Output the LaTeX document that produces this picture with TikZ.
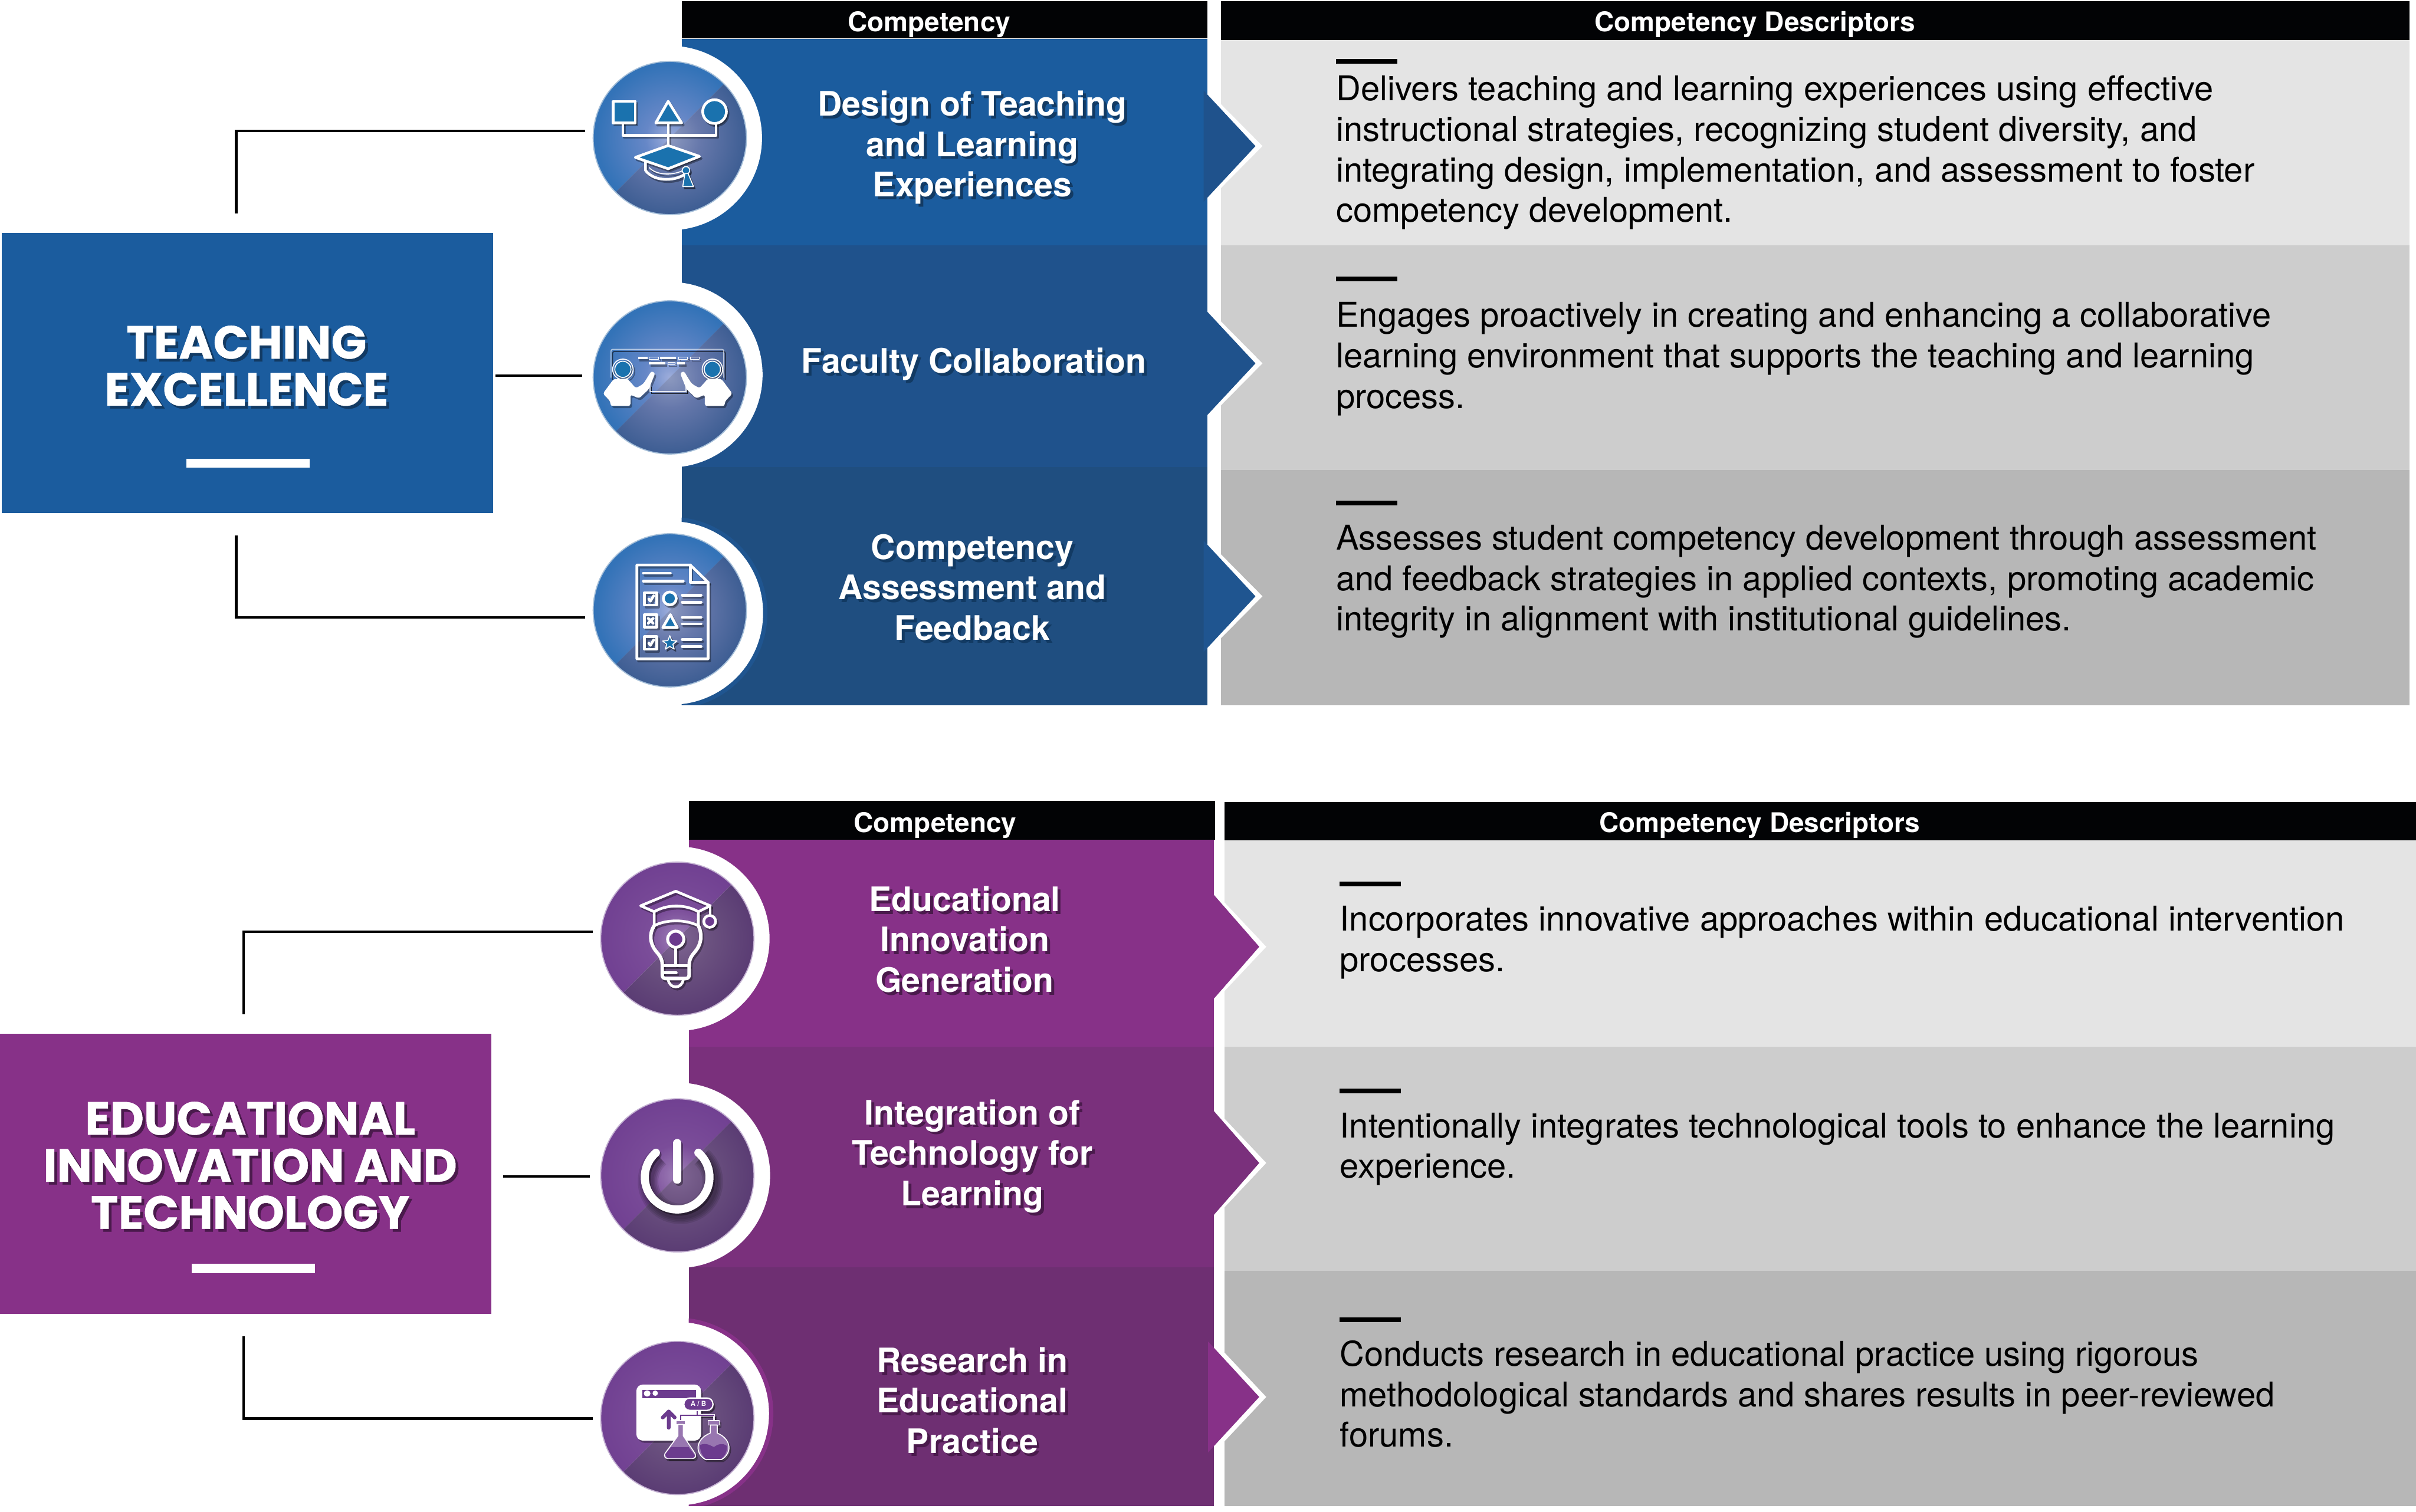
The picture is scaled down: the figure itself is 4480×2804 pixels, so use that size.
\documentclass[tikz,border=0pt]{standalone}
\usepackage{fontspec}
\usepackage{tikz}
\setmainfont{TeX Gyre Heros}
\newfontfamily\titlefont[BoldFeatures={FakeBold=0.6}]{Poppins}

\definecolor{blueA}{HTML}{1B5C9E}
\definecolor{blueB}{HTML}{1F528C}
\definecolor{blueC}{HTML}{1F4E80}
\definecolor{blueD}{HTML}{1F5590}
\definecolor{purpleA}{HTML}{873188}
\definecolor{purpleB}{HTML}{7A307C}
\definecolor{purpleC}{HTML}{6E2F72}
\definecolor{grayA}{HTML}{E4E4E4}
\definecolor{grayB}{HTML}{CDCDCD}
\definecolor{grayC}{HTML}{B7B7B7}
\definecolor{headblack}{HTML}{020305}
\definecolor{capblue}{HTML}{1A72AE}
\definecolor{iconpurple}{HTML}{6C3B8E}
\definecolor{labelshade}{HTML}{123A63}

\pgfdeclareradialshading{blueup}{\pgfpoint{0bp}{0bp}}{rgb(0bp)=(.62,.68,.86);rgb(8bp)=(.4,.53,.78);rgb(24bp)=(.2,.45,.72);rgb(50bp)=(.17,.43,.71)}
\pgfdeclareradialshading{bluedown}{\pgfpoint{0bp}{0bp}}{rgb(0bp)=(.55,.6,.75);rgb(10bp)=(.4,.47,.67);rgb(26bp)=(.23,.36,.57);rgb(50bp)=(.2,.33,.54)}
\pgfdeclareradialshading{purpleup}{\pgfpoint{0bp}{0bp}}{rgb(0bp)=(.62,.5,.72);rgb(10bp)=(.48,.3,.6);rgb(26bp)=(.44,.25,.57);rgb(50bp)=(.42,.23,.56)}
\pgfdeclareradialshading{purpledown}{\pgfpoint{0bp}{0bp}}{rgb(0bp)=(.5,.4,.58);rgb(10bp)=(.42,.32,.5);rgb(26bp)=(.35,.23,.45);rgb(50bp)=(.32,.21,.43)}

\tikzset{
  catbox/.style={rectangle, inner sep=0, minimum width=9.11cm, minimum height=5.19cm},
  cattext/.style={white, align=center, font=\titlefont\bfseries\fontsize{24.5}{24.8}\selectfont},
  headtext/.style={white, anchor=base, font=\bfseries\fontsize{14.3}{16}\selectfont},
  comptext/.style={white, align=center, font=\bfseries\fontsize{17.8}{21.34}\selectfont},
  desctext/.style={black, align=left, anchor=base west, inner sep=0, font=\fontsize{18}{21.34}\selectfont},
  iconring/.style={circle, draw=white!60!#1, line width=.02cm, minimum size=2.84cm, inner sep=0},
  link/.style={black, line width=.045cm},
  iconline/.style={line width=.05cm, line join=round, line cap=round},
  thinline/.style={line width=.018cm, line join=round, line cap=round}
}

% shaded disc, cut along the diagonal
\newcommand{\iconback}[4]{
  \begin{scope}
    \clip (#1-300,#2-300) -- (#1+300,#2-300) -- (#1-300,#2+300) -- cycle;
    \shade[shading=#3] (#1,#2) circle (142);
  \end{scope}
  \begin{scope}
    \clip (#1+300,#2-300) -- (#1+300,#2+300) -- (#1-300,#2+300) -- cycle;
    \shade[shading=#4] (#1,#2) circle (142);
  \end{scope}
}

% art at a centre: soft copy first, then the art
\newcommand{\placeart}[4]{
  \begin{scope}[shift={(#1,#2)}]
    \begin{scope}[shift={(3,4)},opacity=.35]
      #3{black}{black}
    \end{scope}
    #3{white}{#4}
  \end{scope}
}

\newcommand{\hatart}[2]{
  \draw[iconline,draw=#1] (-87,-28) -- (-87,-5) -- (86,-5) -- (86,-27);
  \draw[iconline,draw=#1] (-3,-28) -- (-3,14);
  \draw[iconline,draw=#1,fill=#2] (-105,-68) rectangle (-64,-28);
  \draw[iconline,draw=#1,fill=#2] (-3,-68) -- (22,-28) -- (-26,-28) -- cycle;
  \draw[iconline,draw=#1,fill=#2] (83,-49) circle (22);
  \draw[iconline,draw=#1] (-45,40) -- (-45,60) .. controls (-30,82) and (15,82) .. (34,62);
  \draw[thinline,draw=#1] (-38,55) .. controls (-25,70) and (10,70) .. (28,58);
  \draw[iconline,draw=#1,fill=#2] (-3,14) -- (55,34) -- (-3,57) -- (-64,36) -- cycle;
  \draw[thinline,draw=#1,fill=#2] (30,60) circle (7);
  \draw[thinline,draw=#1,fill=#2] (28,66) -- (24,90) -- (44,90) -- (34,66) -- cycle;
}

\newcommand{\colleague}[2]{
  \draw[thinline,draw=#1] (-87,-15) circle (19);
  \draw[thinline,draw=#1,fill=#2] (-87,-15) circle (15);
  \fill[#1,rounded corners=.04cm] (-124,30) -- (-104,3) -- (-79,2) -- (-63,20) -- (-49,12) -- (-34,-12) -- (-27,-8) -- (-39,22) -- (-57,39) -- (-73,32) -- (-73,53) -- (-110,53) -- (-110,45) -- cycle;
}

\newcommand{\screenart}[2]{
  \draw[thinline,draw=#1,opacity=.6,rounded corners=.03cm] (-109,0) -- (-109,-52) -- (100,-52) -- (100,0);
  \draw[thinline,draw=#1,opacity=.8] (-37,14) -- (-37,26) -- (30,26) -- (30,14);
  \fill[#1] (-59,-38) rectangle (-41,-34);
  \draw[thinline,draw=#1,line width=.008cm] (-38,-38) rectangle (-21,-34);
  \fill[#1] (-18,-38) rectangle (11,-34);
  \draw[thinline,draw=#1,line width=.008cm] (16,-38) rectangle (33,-34);
  \draw[thinline,draw=#1,line width=.008cm] (38,-38) rectangle (55,-34);
  \fill[#1] (-39,-28) rectangle (-8,-24);
  \draw[thinline,draw=#1,line width=.008cm] (-4,-28) rectangle (10,-24);
  \fill[#1] (14,-28) rectangle (28,-24);
  \colleague{#1}{#2}
  \begin{scope}[shift={(-8,0)},xscale=-1]
    \colleague{#1}{#2}
  \end{scope}
}

\newcommand{\tick}[3]{
  \draw[iconline,draw=#3] (#1-4,#2+1) -- (#1-1,#2+5) -- (#1+5,#2-5);
}

\newcommand{\sheetart}[2]{
  \draw[iconline,draw=#1] (-61,-84) -- (38,-84) -- (71,-52) -- (71,90) -- (-61,90) -- cycle;
  \draw[iconline,draw=#1] (38,-84) -- (38,-52) -- (71,-52);
  \draw[iconline,draw=#1] (-49,-69) -- (1,-69);
  \draw[iconline,draw=#1] (-49,-54) -- (25,-54);
  \draw[iconline,draw=#1] (-47,-33) rectangle (-24,-10);
  \draw[iconline,draw=#1] (-47,8) rectangle (-24,31);
  \draw[iconline,draw=#1] (-47,49) rectangle (-24,72);
  \tick{-35}{-22}{#1}
  \draw[iconline,draw=#1] (-40,15) -- (-31,24) (-31,15) -- (-40,24);
  \tick{-35}{60}{#1}
  \draw[iconline,draw=#1,fill=#2] (0,-22) circle (12);
  \draw[iconline,draw=#1,fill=#2] (1,8) -- (14,32) -- (-13,32) -- cycle;
  \draw[thinline,draw=#1,fill=#2] (0,47) -- (3.5,56) -- (13.3,57) -- (5.7,63) -- (8.2,72) -- (0,67) -- (-8.2,72) -- (-5.7,63) -- (-13.3,57) -- (-3.5,56) -- cycle;
  \draw[iconline,draw=#1] (23,-28) -- (58,-28) (23,-15) -- (58,-15);
  \draw[iconline,draw=#1] (23,13) -- (58,13) (23,25) -- (58,25);
  \draw[iconline,draw=#1] (23,54) -- (58,54) (23,67) -- (58,67);
}

\newcommand{\bulbart}[2]{
  \draw[iconline,draw=#1] (-68,-61) -- (-3,-88) -- (61,-61) -- (39,-50) .. controls (15,-64) and (-19,-64) .. (-43,-50) -- cycle;
  \draw[iconline,draw=#1] (-43,-50) -- (-43,-24) .. controls (-20,-36) and (15,-36) .. (39,-24) -- (39,-50);
  \draw[iconline,draw=#1] (61,-61) -- (61,-44);
  \draw[iconline,draw=#1,fill=#2] (60,-32) circle (11);
  \draw[iconline,draw=#1,line width=.065cm] (-43,-24) .. controls (-52,-10) and (-52,8) .. (-39,24) .. controls (-32,32) and (-28,38) .. (-28,48) -- (-28,66) .. controls (-28,72) and (-26,74) .. (-20,74) -- (14,74) .. controls (20,74) and (22,72) .. (22,66) -- (22,48) .. controls (22,38) and (26,32) .. (33,24) .. controls (46,8) and (46,-10) .. (39,-24);
  \draw[iconline,draw=#1] (-3,18) -- (-3,48);
  \draw[iconline,draw=#1] (-28,50) -- (22,50);
  \draw[iconline,draw=#1] (-26,63) -- (-2,63);
  \draw[iconline,draw=#1,line width=.05cm] (-17,76) .. controls (-14,94) and (8,94) .. (11,76);
  \draw[iconline,draw=#1,line width=.055cm,fill=#2] (-3,1) circle (15);
}

\newcommand{\powerart}[2]{
  \draw[draw=#1,line width=.15cm,line cap=round] (39,-42) arc (-49:229:60);
  \draw[draw=#1,line width=.15cm,line cap=round] (0,-60) -- (0,8);
}

\newcommand{\flaskart}[2]{
  \fill[#1,rounded corners=.12cm] (-76,-62) rectangle (44,42);
  \fill[#2] (-65,-52) rectangle (35,-37);
  \fill[#1,rounded corners=.05cm] (-62,-51) rectangle (-50,-40);
  \fill[#1] (-41,-46) circle (5);
  \draw[iconline,draw=#2,line width=.07cm] (-16,18) -- (-16,-12) (-27,-1) -- (-16,-12) -- (-5,-1);
  \draw[draw=#1,line width=.04cm] (37,-14) -- (37,-5) (6,5) -- (6,-5) -- (68,-5) -- (68,5);
  \draw[draw=#2,line width=.018cm] (37,-14) -- (37,-5) (6,5) -- (6,-5) -- (68,-5) -- (68,5);
  \draw[thinline,draw=#1,fill=#2!70!white] (-2,5) rectangle (15,12);
  \draw[thinline,draw=#1,fill=#2!70!white] (1,12) -- (1,33) -- (-23,66) .. controls (-25,72) and (-22,75) .. (-18,75) -- (28,75) .. controls (33,75) and (35,72) .. (33,66) -- (11,33) -- (11,12) -- cycle;
  \fill[#2] (-12,54) -- (21,54) -- (33,70) -- (28,75) -- (-18,75) -- (-23,68) -- cycle;
  \draw[thinline,draw=#1,fill=#2!70!white] (57,5) rectangle (78,13);
  \draw[thinline,draw=#1,fill=#2!70!white] (61,13) -- (61,28) .. controls (32,40) and (33,66) .. (52,77) -- (82,77) .. controls (101,66) and (102,40) .. (74,28) -- (74,13) -- cycle;
  \fill[#2] (42,50) .. controls (55,45) and (62,52) .. (68,54) .. controls (75,48) and (85,46) .. (92,52) .. controls (92,64) and (88,70) .. (81,76) -- (53,76) .. controls (46,70) and (42,62) .. (42,50) -- cycle;
  \draw[thinline,draw=#1,line width=.025cm,fill=#2,rounded corners=.11cm] (12,-37) rectangle (66,-14);
}

\newcommand{\shtext}[1]{\leavevmode\rlap{\kern1.5pt\raisebox{-1.5pt}{\textcolor{labelshade}{#1}}}#1}

\begin{document}
\begin{tikzpicture}[x=0.01cm,y=-0.01cm]

 \useasboundingbox (0,0) rectangle (4480,2804);

 %%%  teaching block

 % panels
 \fill[grayA] (2264,74) rectangle (4468,455);
 \fill[grayB] (2264,455) rectangle (4468,872);
 \fill[grayC] (2264,872) rectangle (4468,1308);

 % rows
 \fill[blueA] (1264,72) rectangle (2239,455);
 \fill[blueB] (1264,455) rectangle (2239,866);
 \fill[blueC] (1264,866) rectangle (2239,1308);

 % chevrons
 \fill[white] (2239,168) -- (2341,271) -- (2239,374) -- cycle;
 \fill[blueB] (2232,168) -- (2328,271) -- (2232,374) -- cycle;
 \fill[white] (2239,571) -- (2341,674) -- (2239,777) -- cycle;
 \fill[blueB] (2232,571) -- (2328,674) -- (2232,777) -- cycle;
 \fill[white] (2239,1003) -- (2341,1106) -- (2239,1209) -- cycle;
 \fill[blueD] (2232,1003) -- (2328,1106) -- (2232,1209) -- cycle;

 % white rings
 \begin{scope}
  \clip (1264,866) rectangle (2239,1308);
  \fill[blueD] (1245,1137) circle (178);
 \end{scope}
 \fill[white] (1242,256) circle (171);
 \fill[white] (1242,695) circle (172);
 \fill[white] (1245,1137) circle (170);

 % icons
 \iconback{1242}{256}{blueup}{bluedown}
 \iconback{1242}{700}{blueup}{bluedown}
 \iconback{1242}{1132}{blueup}{bluedown}
 \node [iconring=blueA] (design) at (1242,256) {};
 \node [iconring=blueA] (faculty) at (1242,700) {};
 \node [iconring=blueA] (assess) at (1242,1132) {};
 \placeart{1242}{256}{\hatart}{capblue}
 \placeart{1242}{700}{\screenart}{capblue}
 \placeart{1242}{1132}{\sheetart}{capblue}

 % headers
 \fill[headblack] (1264,2) rectangle (2239,71);
 \fill[headblack] (2264,2) rectangle (4468,74);
 \node [headtext] (comphead) at (1723,59) {Competency};
 \node [headtext] (deschead) at (3254,59) {Competency Descriptors};

 % row labels
 \node [comptext] (designtext) at (1803,276) {\shtext{Design of Teaching}\\ \shtext{and Learning}\\ \shtext{Experiences}};
 \node [comptext] (facultytext) at (1806,678) {\shtext{Faculty Collaboration}};
 \node [comptext] (assesstext) at (1803,1092) {\shtext{Competency}\\ \shtext{Assessment and}\\ \shtext{Feedback}};

 % descriptors
 \fill[black] (2477,109) rectangle (2591,118);
 \fill[black] (2477,513) rectangle (2591,522);
 \fill[black] (2477,929) rectangle (2591,937);
 \node [desctext] (designdesc) at (2477,412) {Delivers teaching and learning experiences using effective\\instructional strategies, recognizing student diversity, and\\integrating design, implementation, and assessment to foster\\competency development.};
 \node [desctext] (facultydesc) at (2477,757) {Engages proactively in creating and enhancing a collaborative\\learning environment that supports the teaching and learning\\process.};
 \node [desctext] (assessdesc) at (2477,1170) {Assesses student competency development through assessment\\and feedback strategies in applied contexts, promoting academic\\integrity in alignment with institutional guidelines.};

 % category box
 \node [catbox, fill=blueA] (teachbox) at (458.5,692) {};
 \node [cattext] (teachtitle) at (457,681) {\shtext{TEACHING}\\ \shtext{EXCELLENCE}};
 \fill[white] (346,851) rectangle (574,867);

 % links
 \coordinate (teachup) at (438,396);
 \coordinate (designin) at (1085,243);
 \coordinate (teachright) at (919,697);
 \coordinate (facultyin) at (1080,697);
 \coordinate (teachdown) at (438,993);
 \coordinate (assessin) at (1085,1145);
 \draw [link] (teachup) |- (designin);
 \draw [link] (teachright) -- (facultyin);
 \draw [link] (teachdown) |- (assessin);

 %%%  innovation block

 % panels
 \fill[grayA] (2271,1559) rectangle (4480,1941);
 \fill[grayB] (2271,1941) rectangle (4480,2357);
 \fill[grayC] (2271,2357) rectangle (4480,2793);

 % rows
 \fill[purpleA] (1277,1557) rectangle (2251,1941);
 \fill[purpleB] (1277,1941) rectangle (2251,2350);
 \fill[purpleC] (1277,2350) rectangle (2251,2793);

 % chevrons
 \fill[white] (2251,1653) -- (2348,1756) -- (2251,1859) -- cycle;
 \fill[purpleA] (2245,1653) -- (2335,1756) -- (2245,1859) -- cycle;
 \fill[white] (2251,2054) -- (2348,2157) -- (2251,2260) -- cycle;
 \fill[purpleB] (2245,2054) -- (2335,2157) -- (2245,2260) -- cycle;
 \fill[white] (2251,2488) -- (2348,2591) -- (2251,2694) -- cycle;
 \fill[purpleA] (2240,2488) -- (2335,2591) -- (2240,2694) -- cycle;

 % white rings
 \begin{scope}
  \clip (1277,2350) rectangle (2251,2793);
  \fill[purpleA] (1256,2622) circle (178);
 \end{scope}
 \fill[white] (1256,1741) circle (171);
 \fill[white] (1256,2180) circle (172);
 \fill[white] (1256,2622) circle (170);

 % icons
 \iconback{1256}{1741}{purpleup}{purpledown}
 \iconback{1256}{2180}{purpleup}{purpledown}
 \iconback{1256}{2630}{purpleup}{purpledown}
 \node [iconring=iconpurple] (generation) at (1256,1741) {};
 \node [iconring=iconpurple] (integration) at (1256,2180) {};
 \node [iconring=iconpurple] (research) at (1256,2630) {};
 \placeart{1256}{1741}{\bulbart}{iconpurple}
 % dark halo round the power sign
 \begin{scope}[shift={(1262,2188)}]
  \foreach \w in {.38,.32,.26,.2} {
   \draw[black, opacity=.1, line width=\w cm] (39,-42) arc (-49:229:60);
  }
 \end{scope}
 \placeart{1256}{2180}{\powerart}{iconpurple}
 \placeart{1256}{2630}{\flaskart}{iconpurple}
 \node [white, font=\bfseries\fontsize{3.6}{4}\selectfont, inner sep=0] (abtag) at (1295,2604) {A / B};

 % headers
 \fill[headblack] (1277,1485) rectangle (2253,1557);
 \fill[headblack] (2271,1487) rectangle (4480,1559);
 \node [headtext] (comphead2) at (1734,1544) {Competency};
 \node [headtext] (deschead2) at (3263,1544) {Competency Descriptors};

 % row labels
 \definecolor{labelshade}{HTML}{4A1A4C}
 \node [comptext] (generationtext) at (1789,1745) {\shtext{Educational}\\ \shtext{Innovation}\\ \shtext{Generation}};
 \node [comptext] (integrationtext) at (1803,2147) {\shtext{Integration of}\\ \shtext{Technology for}\\ \shtext{Learning}};
 \node [comptext] (researchtext) at (1803,2600) {\shtext{Research in}\\ \shtext{Educational}\\ \shtext{Practice}};

 % descriptors
 \fill[black] (2484,1635) rectangle (2598,1644);
 \fill[black] (2484,2019) rectangle (2598,2028);
 \fill[black] (2484,2443) rectangle (2598,2452);
 \node [desctext] (generationdesc) at (2484,1802) {Incorporates innovative approaches within educational intervention\\processes.};
 \node [desctext] (integrationdesc) at (2484,2185) {Intentionally integrates technological tools to enhance the learning\\experience.};
 \node [desctext] (researchdesc) at (2484,2684) {Conducts research in educational practice using rigorous\\methodological standards and shares results in peer-reviewed\\forums.};

 % category box
 \node [catbox, fill=purpleA] (innobox) at (455.5,2177.5) {};
 \node [cattext] (innotitle) at (464,2164) {\shtext{EDUCATIONAL}\\ \shtext{INNOVATION AND}\\ \shtext{TECHNOLOGY}};
 \fill[white] (356,2344) rectangle (584,2361);

 % links
 \coordinate (innoup) at (452,1881);
 \coordinate (generationin) at (1099,1728);
 \coordinate (innoright) at (933,2182);
 \coordinate (integrationin) at (1094,2182);
 \coordinate (innodown) at (452,2478);
 \coordinate (researchin) at (1099,2631);
 \draw [link] (innoup) |- (generationin);
 \draw [link] (innoright) -- (integrationin);
 \draw [link] (innodown) |- (researchin);

\end{tikzpicture}
\end{document}
